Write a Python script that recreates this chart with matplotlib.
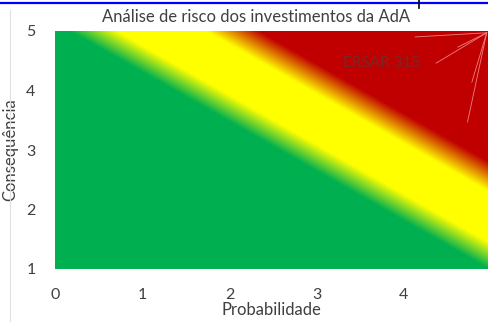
import numpy as np
import matplotlib.pyplot as plt
from matplotlib.colors import LinearSegmentedColormap
from matplotlib.lines import Line2D

plt.rcParams['font.family'] = ['Lato', 'DejaVu Sans']

# risk matrix: score = probabilidade + 1.2 * consequência
x_ticks = [0, 1, 2, 3, 4]
y_ticks = [1, 2, 3, 4, 5]
weight_y = 1.2
stop_scores = [6.17, 6.71, 7.74, 8.35]
stop_colors = ['#00B050', '#FFFF00', '#FFFF00', '#C00000']

label_text = 'ERSAR 315'
label_pos = (3.74, 4.46)
leader_origin = (4.95, 4.97)
leader_ends_x = [4.13, 4.62, 4.37, 4.78, 4.73]
leader_ends_y = [4.90, 4.73, 4.46, 4.14, 3.47]

fig = plt.figure(figsize=(4.88, 3.22), dpi=100)
ax = fig.add_axes([55 / 488, 1 - 269 / 322, 1 - 55 / 488, 238 / 322])

# gradient background
xs = np.linspace(0, 5, 600)
ys = np.linspace(1, 5, 400)
X, Y = np.meshgrid(xs, ys)
score = X + weight_y * Y
lo, hi = stop_scores[0], stop_scores[-1]
pos = [(s - lo) / (hi - lo) for s in stop_scores]
cmap = LinearSegmentedColormap.from_list('risco', list(zip(pos, stop_colors)))
ax.imshow(score, cmap=cmap, vmin=lo, vmax=hi, origin='lower',
          extent=[0, 5, 1, 5], aspect='auto', interpolation='bilinear')

ax.set_xlim(0, 4.965)
ax.set_ylim(1, 5)
ax.set_xticks(x_ticks)
ax.set_yticks(y_ticks)
ax.tick_params(length=0, labelsize=11.5, labelcolor='#404040')
ax.tick_params(axis='x', pad=14)
ax.tick_params(axis='y', pad=14)
for sp in ax.spines.values():
    sp.set_visible(False)

ax.set_xlabel('Probabilidade', fontsize=12, color='#404040', labelpad=0)
ax.set_ylabel('Consequência', fontsize=12, color='#404040')
ax.yaxis.set_label_coords(-0.085, 0.5)

# annotation with leader lines
ax.text(label_pos[0], label_pos[1], label_text, color='#7E2424', fontsize=11,
        fontweight='semibold', ha='center', va='center')
for ex, ey in zip(leader_ends_x, leader_ends_y):
    ax.plot([leader_origin[0], ex], [leader_origin[1], ey], color='#F08080',
            lw=0.6, clip_on=False)

fig.text(256 / 488, 1 - 17 / 322, 'Análise de risco dos investimentos da AdA',
         ha='center', va='center', fontsize=12, color='#404040')

# page chrome around the chart
fig.add_artist(Line2D([0, 1], [1 - 2.5 / 322] * 2, color='#0000FF', lw=1.6))
fig.add_artist(Line2D([419 / 488] * 2, [1, 1 - 8 / 322], color='black', lw=1.2))
fig.add_artist(Line2D([10 / 488] * 2, [1 - 10 / 322, 0], color='#E0E0E0', lw=0.8))

fig.savefig('out.png', dpi=100)
